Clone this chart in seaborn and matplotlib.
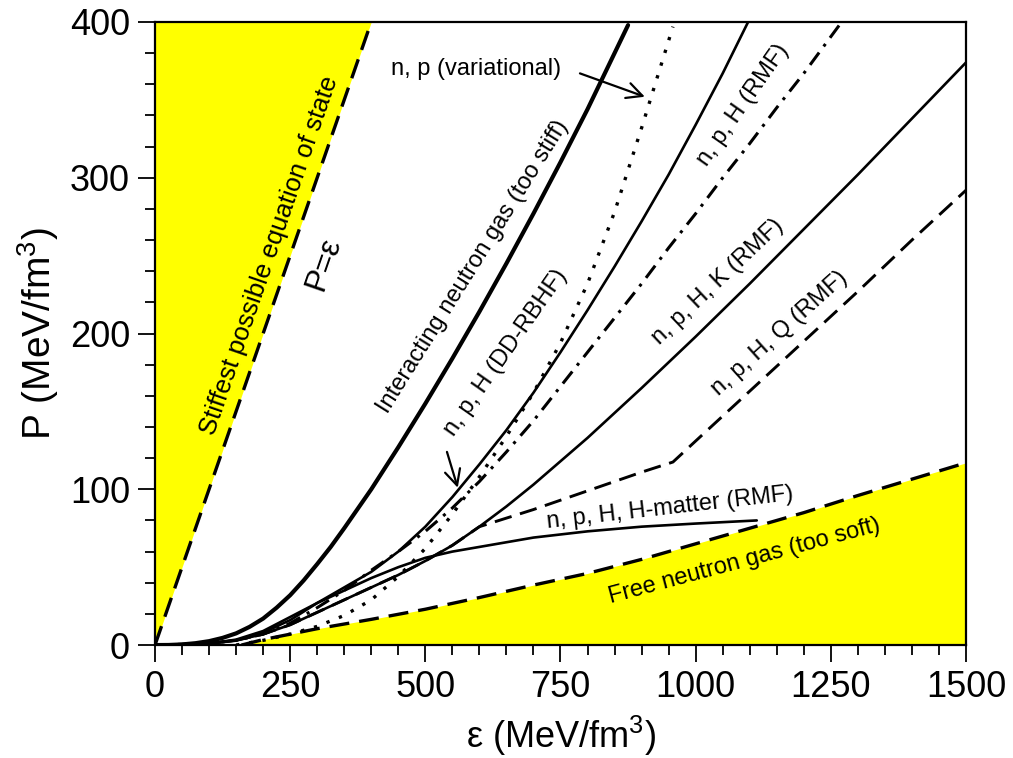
import numpy as np
import pandas as pd
import seaborn as sns
import matplotlib.pyplot as plt
from matplotlib.ticker import MultipleLocator

# energy density (MeV/fm^3) and pressure (MeV/fm^3)
stiff_eps = [0, 400]
stiff_p = [0, 400]

free_eps = [160, 200, 250, 300, 400, 500, 600, 700, 800, 900, 1000, 1100, 1200, 1300, 1400, 1500]
free_p = [0, 3.5, 7, 10.5, 16.5, 23, 30.5, 38.5, 46, 55, 65, 75, 85, 96, 106.5, 117]

ing_eps = [0, 25, 50, 75, 100, 125, 150, 175, 200, 225, 250, 275, 300, 325, 350, 400, 450, 500,
           550, 600, 650, 700, 750, 800, 850, 875]
ing_p = [0, 0.05, 0.4, 1.2, 2.5, 4.6, 7.5, 11.7, 17, 24, 32, 41.5, 52, 63, 75, 100, 127, 155,
         184, 214, 245, 277, 310, 344, 380, 398]

var_eps = [150, 200, 250, 300, 350, 400, 450, 500, 550, 600, 650, 700, 750, 800, 850, 900, 958]
var_p = [0, 3, 7, 12, 19, 29, 44, 62, 84, 108, 134, 162, 194, 232, 278, 332, 397]

rbhf_eps = [0, 100, 150, 200, 250, 300, 350, 400, 450, 500, 550, 600, 650, 700, 750, 800, 850, 900, 950, 1000, 1050, 1097]
rbhf_p = [0, 1, 3, 8, 16, 27, 37, 47, 60, 76, 95, 116, 138, 162, 188, 215, 243, 272, 302, 334, 367, 400]

rmf_eps = [0, 100, 150, 200, 250, 300, 350, 400, 450, 500, 550, 600, 650, 700, 750, 800, 850, 900, 950, 1000, 1050, 1100, 1150, 1200, 1270]
rmf_p = [0, 1, 3, 7, 14, 24, 35, 48, 60, 73, 88, 105, 124, 144, 166, 188, 210, 232, 255, 277, 300, 322, 345, 367, 400]

kaon_eps = [0, 100, 150, 200, 250, 300, 350, 400, 450, 500, 550, 600, 650, 700, 750, 800, 850, 900, 1000, 1100, 1200, 1300, 1400, 1500]
kaon_p = [0, 1, 3, 7, 13, 21, 29, 37, 45, 54, 64, 76, 89, 103, 118, 133, 149, 165, 198, 232, 267, 302, 338, 374]

quark_eps = [0, 100, 150, 200, 250, 300, 350, 400, 450, 500, 550, 600, 700, 800, 900, 958, 1000, 1100, 1200, 1300, 1400, 1500]
quark_p = [0, 1, 3, 7, 13, 21, 29, 37, 45, 54, 64, 76, 87, 99, 111, 117.5, 131, 163, 195, 227, 260, 292]

hmat_eps = [0, 100, 150, 200, 250, 300, 350, 400, 450, 500, 550, 600, 700, 800, 900, 1000, 1113]
hmat_p = [0, 1, 3.5, 9, 18, 27, 35, 43, 50, 56, 60, 63, 69, 73, 76, 78, 80]

sns.set_theme(style="ticks")
plt.rcParams["font.family"] = ["Liberation Sans", "DejaVu Sans"]
plt.rcParams["mathtext.fontset"] = "custom"
plt.rcParams["mathtext.rm"] = "Liberation Sans"
plt.rcParams["mathtext.it"] = "Liberation Sans:italic"

fig = plt.figure(figsize=(10.13, 7.58), dpi=100)
ax = fig.add_axes([0.153, 0.149, 0.8006, 0.822])

yellow = "#ffff00"
# causality-violating region and too-soft region
ax.fill_between(stiff_eps, stiff_p, 400, color=yellow, lw=0, zorder=0)
ax.fill_between(free_eps, 0, free_p, color=yellow, lw=0, zorder=0)

dash = (0, (6, 3))
sns.lineplot(x=stiff_eps, y=stiff_p, ax=ax, color="black", lw=2.4, linestyle=dash, sort=False)
sns.lineplot(x=free_eps, y=free_p, ax=ax, color="black", lw=2.4, linestyle=dash, sort=False)
sns.lineplot(x=ing_eps, y=ing_p, ax=ax, color="black", lw=3.0, sort=False)
sns.lineplot(x=var_eps, y=var_p, ax=ax, color="black", lw=2.4, linestyle=(0, (1, 3)), sort=False)
sns.lineplot(x=rbhf_eps, y=rbhf_p, ax=ax, color="black", lw=1.9, sort=False)
sns.lineplot(x=kaon_eps, y=kaon_p, ax=ax, color="black", lw=1.9, sort=False)
sns.lineplot(x=quark_eps, y=quark_p, ax=ax, color="black", lw=2.1, linestyle=dash, sort=False)
sns.lineplot(x=hmat_eps, y=hmat_p, ax=ax, color="black", lw=1.9, sort=False)
sns.lineplot(x=rmf_eps, y=rmf_p, ax=ax, color="black", lw=2.2, linestyle=(0, (5, 2.5, 1, 2.5)), sort=False)

ax.set_xlim(0, 1500)
ax.set_ylim(0, 400)
ax.xaxis.set_major_locator(MultipleLocator(250))
ax.xaxis.set_minor_locator(MultipleLocator(50))
ax.yaxis.set_major_locator(MultipleLocator(100))
ax.yaxis.set_minor_locator(MultipleLocator(20))
ax.tick_params(which="both", direction="out", color="black", width=1.3, top=False, right=False)
ax.tick_params(which="major", length=12, labelsize=26, pad=6, labelcolor="black")
ax.tick_params(which="minor", length=7)
for s in ax.spines.values():
    s.set_color("black")
    s.set_linewidth(1.6)

ax.set_xlabel(r"ε (MeV/fm$^3$)", fontsize=26, labelpad=6, color="black")
ax.set_ylabel(r"P (MeV/fm$^3$)", fontsize=28, labelpad=6, color="black")

fs = 17
opts = dict(ha="center", va="center", rotation_mode="anchor", color="black")
ax.text(211, 250, "Stiffest possible equation of state", rotation=70.9, fontsize=18.5, **opts)
ax.text(312, 245, "P=ε", rotation=70.9, fontsize=23, **opts)
ax.text(588, 243, "Interacting neutron gas (too stiff)", rotation=58, fontsize=fs, **opts)
ax.text(649, 188, "n, p, H (DD-RBHF)", rotation=55, fontsize=fs, **opts)
ax.text(1088, 347, "n, p, H (RMF)", rotation=55, fontsize=fs, **opts)
ax.text(1041, 233, "n, p, H, K (RMF)", rotation=43.5, fontsize=fs, **opts)
ax.text(1156, 200, "n, p, H, Q (RMF)", rotation=42, fontsize=fs, **opts)
ax.text(952, 88, "n, p, H, H-matter (RMF)", rotation=6.5, fontsize=fs, **opts)
ax.text(1090, 54, "Free neutron gas (too soft)", rotation=15, fontsize=fs, **opts)
ax.text(594, 370, "n, p (variational)", fontsize=fs, **opts)

arrow = dict(arrowstyle="->", color="black", lw=1.6, mutation_scale=28, shrinkA=0, shrinkB=0)
ax.annotate("", xy=(906, 352), xytext=(786, 367), arrowprops=arrow)
ax.annotate("", xy=(560, 101), xytext=(540, 124), arrowprops=arrow)

fig.savefig("out.png", dpi=100)
